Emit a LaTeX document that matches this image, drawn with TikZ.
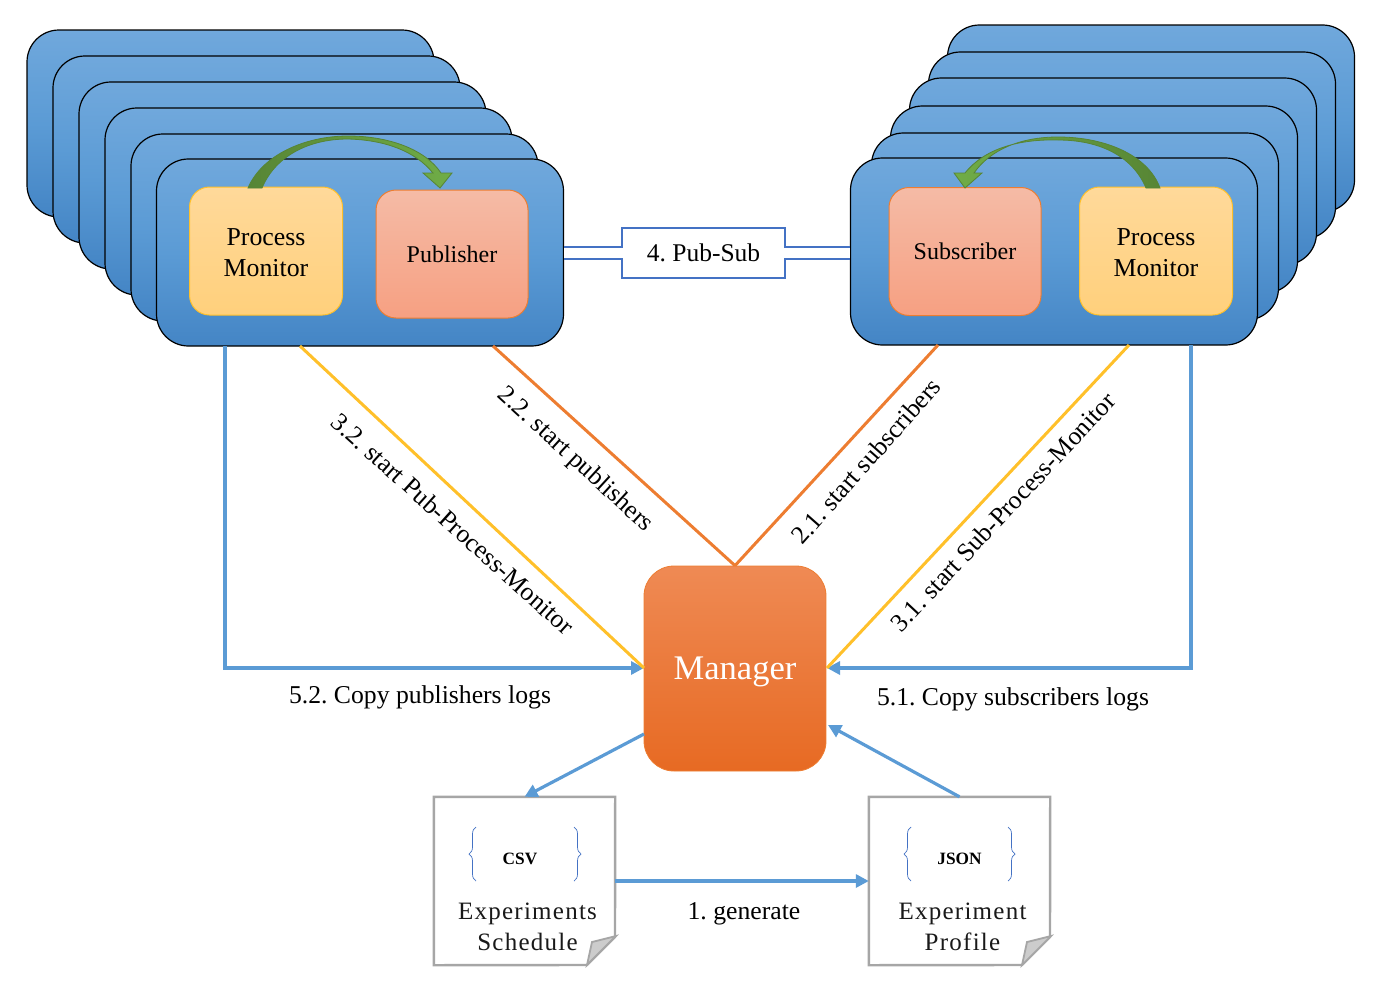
\documentclass[tikz,border=0pt]{standalone}
\usepackage{fontspec}
\setmainfont{Liberation Serif}
\newfontfamily\docfont[LetterSpace=5]{Liberation Serif}
\usepackage{tikz}
\usetikzlibrary{arrows.meta, decorations.pathreplacing}
\definecolor{stacktop}{HTML}{70A8DC}
\definecolor{stackmid}{HTML}{5B9BD5}
\definecolor{stackbot}{HTML}{4485C5}
\definecolor{linkblue}{HTML}{5B9BD5}
\definecolor{noteblue}{HTML}{4472C4}
\definecolor{linkorange}{HTML}{ED7D31}
\definecolor{linkyellow}{HTML}{FFC02A}
\definecolor{arrowdark}{HTML}{578535}
\definecolor{arrowlight}{HTML}{70AD47}
\definecolor{montop}{HTML}{FFD99A}
\definecolor{monbot}{HTML}{FFD07C}
\definecolor{workertop}{HTML}{F5BBA6}
\definecolor{workerbot}{HTML}{F6A082}
\definecolor{mgrtop}{HTML}{EF8A54}
\definecolor{mgrmid}{HTML}{F47B33}
\definecolor{mgrbot}{HTML}{E76A23}

\begin{document}
\frenchspacing
\begin{tikzpicture}[x=1pt, y=-1pt,
    stackbox/.style={draw=black, line width=1.2pt, rounded corners=32pt, minimum width=407pt, minimum height=187pt,
        inner sep=0pt, top color=stacktop, bottom color=stackbot, middle color=stackmid},
    monitor/.style={draw=linkyellow, line width=1pt, rounded corners=20pt, minimum width=153pt, minimum height=128pt,
        inner sep=0pt, align=center, text height=52pt, font=\fontsize{25.8}{31}\selectfont, top color=montop, bottom color=monbot},
    worker/.style={draw=linkorange, line width=1pt, rounded corners=20pt, minimum width=152pt, minimum height=128pt,
        inner sep=0pt, align=center, font=\fontsize{24}{30}\selectfont, top color=workertop, bottom color=workerbot},
    link/.style={line width=3.2pt, -{Triangle[length=13pt,width=13pt]}},
    plainlink/.style={line width=3pt},
    curved/.style={draw=arrowdark, line width=.8pt, left color=arrowdark, right color=arrowlight},
    page/.style={draw=black!35, line width=2.4pt, fill=white, line join=miter},
    fold/.style={draw=black!35, line width=1.8pt, fill=black!20},
    doctext/.style={font=\fontsize{25}{31}\docfont, align=center, text=black!90},
    tagtext/.style={font=\bfseries\fontsize{17.3}{20}\selectfont},
    curly/.style={draw=noteblue, line width=.7pt, decorate, decoration={brace, amplitude=7pt}},
    edgetext/.style={font=\fontsize{25.7}{30}\selectfont}
    ]
    \useasboundingbox (0,0) rectangle (1378,993);

    % publisher stack
    \node[stackbox] (pub5) at (230.5,123.5) {};
    \node[stackbox] (pub4) at (256.5,149.5) {};
    \node[stackbox] (pub3) at (282.5,175.5) {};
    \node[stackbox] (pub2) at (308.5,201.5) {};
    \node[stackbox] (pub1) at (334.5,227.5) {};
    \node[stackbox] (pub0) at (360,252.5) {};
    \node[monitor] (pubmon) at (266,251) {Process\\Monitor};
    \node[worker] (publisher) at (452,254) {Publisher};

    % subscriber stack
    \node[stackbox] (sub5) at (1151,118.5) {};
    \node[stackbox] (sub4) at (1132,145.5) {};
    \node[stackbox] (sub3) at (1113,171.5) {};
    \node[stackbox] (sub2) at (1094,199.5) {};
    \node[stackbox] (sub1) at (1075,226.5) {};
    \node[stackbox] (sub0) at (1054,251.5) {};
    \node[worker] (subscriber) at (965,251.5) {Subscriber};
    \node[monitor] (submon) at (1156,251) {Process\\Monitor};

    % curved arrows
    \path[curved] (248,188) .. controls (262,155) and (305,136) .. (348,136)
        .. controls (388,136) and (425,149) .. (441,173) -- (452,173) -- (440,188) -- (423,173) -- (433,173)
        .. controls (415,151) and (385,140) .. (348,139) .. controls (310,139) and (276,155) .. (262,188) -- cycle;
    \path[curved, left color=arrowlight, right color=arrowdark] (1160,188) .. controls (1148,155) and (1105,137) .. (1058,137)
        .. controls (1020,137) and (990,150) .. (974,173) -- (982,173) -- (965,188) -- (954,173) -- (965,173)
        .. controls (985,148) and (1020,139) .. (1058,140) .. controls (1098,140) and (1132,155) .. (1146,188) -- cycle;

    % pub-sub note
    \node[draw=noteblue, line width=2pt, fill=white, minimum width=163pt, minimum height=50pt, inner sep=0pt,
        font=\fontsize{25.5}{30}\selectfont] (note) at (703.5,253) {4. Pub-Sub};
    \draw[noteblue, line width=2pt, double=white, double distance=10pt] (note.west) -- (note.west -| pub0.east);
    \draw[noteblue, line width=2pt, double=white, double distance=10pt] (note.east) -- (note.east -| sub0.west);
    \draw[white, line width=10pt] ([xshift=-2pt]note.west) -- ([xshift=2pt]note.west);
    \draw[white, line width=10pt] ([xshift=-2pt]note.east) -- ([xshift=2pt]note.east);

    % manager
    \node[draw=linkorange, line width=.8pt, rounded corners=30pt, minimum width=182pt, minimum height=205pt, inner sep=0pt,
        top color=mgrtop, middle color=mgrmid, bottom color=mgrbot,
        text=white, text depth=0pt, font=\fontsize{34.5}{40}\selectfont] (manager) at (735,668.5) {Manager};

    % documents
    \node[minimum width=181pt, minimum height=168pt, inner sep=0pt] (csvdoc) at (524.5,881) {};
    \node[minimum width=181pt, minimum height=168pt, inner sep=0pt] (jsondoc) at (959.5,881) {};
    \draw[page] (csvdoc.north west) -- (csvdoc.north east) -- (615,937) -- (587,965) -- (csvdoc.south west) -- cycle;
    \draw[fold] (587,965) -- (592,942) -- (616,936) -- cycle;
    \draw[page] (jsondoc.north west) -- (jsondoc.north east) -- (1050,937) -- (1022,965) -- (jsondoc.south west) -- cycle;
    \draw[fold] (1022,965) -- (1027,942) -- (1051,936) -- cycle;
    \draw[curly] (476,881) -- (476,827);
    \draw[curly] (574,827) -- (574,881);
    \draw[curly] (911,881) -- (911,827);
    \draw[curly] (1008,827) -- (1008,881);
    \node[tagtext] (csvtag) at (520,859) {CSV};
    \node[tagtext] (jsontag) at (959.5,859) {JSON};
    \node[doctext] (csvname) at (527.5,926.5) {Experiments\\Schedule};
    \node[doctext] (jsonname) at (962.5,926.5) {Experiment\\Profile};

    % connector ends
    \coordinate (pubblue) at (225,346);
    \coordinate (pubyellow) at (300,346);
    \coordinate (puborange) at (493,346);
    \coordinate (suborange) at (938,345);
    \coordinate (subyellow) at (1129,345);
    \coordinate (subblue) at (1191,345);
    \coordinate (mgrleft) at (644,668);
    \coordinate (mgrright) at (827,668);
    \coordinate (mgrlow) at (644,734);
    \coordinate (mgrlowin) at (828,725);

    \draw[plainlink, linkorange] (puborange) -- (manager.north);
    \draw[plainlink, linkorange] (suborange) -- (manager.north);
    \draw[link, linkblue] (pubblue) |- (mgrleft);
    \draw[link, linkblue] (subblue) |- (mgrright);
    \draw[plainlink, linkyellow] (pubyellow) -- (mgrleft);
    \draw[plainlink, linkyellow] (subyellow) -- (mgrright);
    \draw[link, linkblue] (mgrlow) -- (csvdoc.north);
    \draw[link, linkblue] (jsondoc.north) -- (mgrlowin);
    \draw[link, linkblue] (csvdoc.east) -- (jsondoc.west);

    % labels
    \node[edgetext, rotate=-42.5] (lab22) at (575,460) {2.2. start publishers};
    \node[edgetext, rotate=-42] (lab32) at (453,524) {3.2. start Pub-Process-Monitor};
    \node[edgetext, rotate=48.5] (lab21) at (866,461) {2.1. start subscribers};
    \node[edgetext, rotate=47] (lab31) at (1003,512) {3.1. start Sub-Process-Monitor};
    \node[edgetext] (lab52) at (420,697) {5.2. Copy publishers logs};
    \node[edgetext] (lab51) at (1013,699) {5.1. Copy subscribers logs};
    \node[edgetext] (lab1) at (744,914) {1. generate};
\end{tikzpicture}
\end{document}
